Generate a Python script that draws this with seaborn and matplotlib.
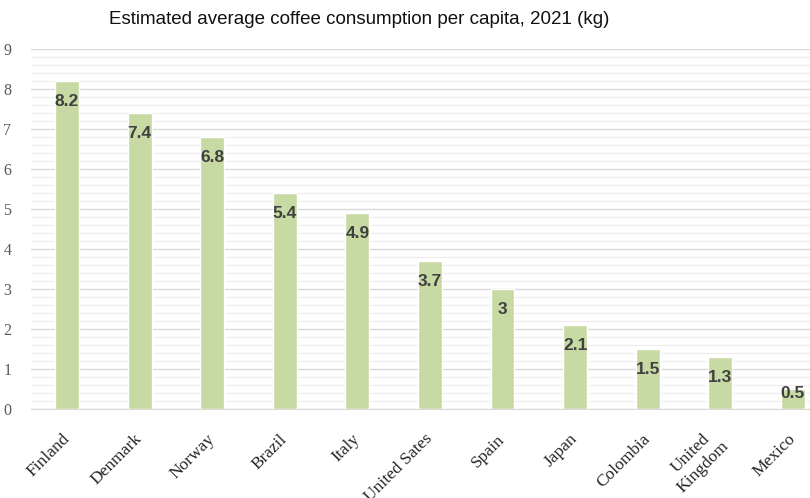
import matplotlib
matplotlib.use("Agg")
import matplotlib.pyplot as plt
import seaborn as sns
import pandas as pd
import numpy as np
from matplotlib.ticker import MultipleLocator

countries = ["Finland", "Denmark", "Norway", "Brazil", "Italy", "United Sates",
             "Spain", "Japan", "Colombia", "United\nKingdom", "Mexico"]
kg = [8.2, 7.4, 6.8, 5.4, 4.9, 3.7, 3.0, 2.1, 1.5, 1.3, 0.5]
value_text = ["8.2", "7.4", "6.8", "5.4", "4.9", "3.7", "3", "2.1", "1.5", "1.3", "0.5"]

df = pd.DataFrame({"country": countries, "kg": kg})

sns.set_style("white")
fig = plt.figure(figsize=(8.1, 4.98), dpi=100)
ax = fig.add_axes([0.038, 0.1787, 0.9856, 0.7229])

sns.barplot(data=df, x="country", y="kg", color="#c8daa3", saturation=1,
            width=0.33, ax=ax, zorder=3)

ax.set_ylim(0, 9)
ax.set_xlim(-0.5, len(countries) - 0.5)
ax.yaxis.set_major_locator(MultipleLocator(1))
ax.yaxis.set_minor_locator(MultipleLocator(0.2))
ax.grid(which="major", axis="y", color="#d9d9d9", lw=1, zorder=0)
ax.grid(which="minor", axis="y", color="#eeeeee", lw=0.9, zorder=0)
ax.set_axisbelow(True)
for s in ["top", "right", "left"]:
    ax.spines[s].set_visible(False)
ax.spines["bottom"].set_color("#d9d9d9")

ax.tick_params(axis="y", which="both", length=0, labelsize=11.5, labelcolor="#595959", pad=14)
ax.tick_params(axis="x", length=0, pad=20)
for lab in ax.get_yticklabels():
    lab.set_fontfamily("Liberation Serif")
ax.set_xticks(range(len(countries)))
ax.set_xticklabels(countries, rotation=45, ha="right", va="center",
                   rotation_mode="anchor", fontfamily="Liberation Serif",
                   fontsize=12.5, color="#262626", multialignment="center")
ax.set_xlabel("")
ax.set_ylabel("")

for i, (v, t) in enumerate(zip(kg, value_text)):
    y = v - 0.52 if v > 1 else v - 0.12
    ax.text(i, y, t, ha="center", va="center", fontsize=12.5, fontweight="bold",
            color="#404040", fontfamily="Liberation Sans", zorder=4)

fig.text(0.444, 0.96, "Estimated average coffee consumption per capita, 2021 (kg)",
         ha="center", va="center", fontsize=13.5, fontfamily="Liberation Sans",
         color="#111111")

fig.savefig("out.png", dpi=100)
